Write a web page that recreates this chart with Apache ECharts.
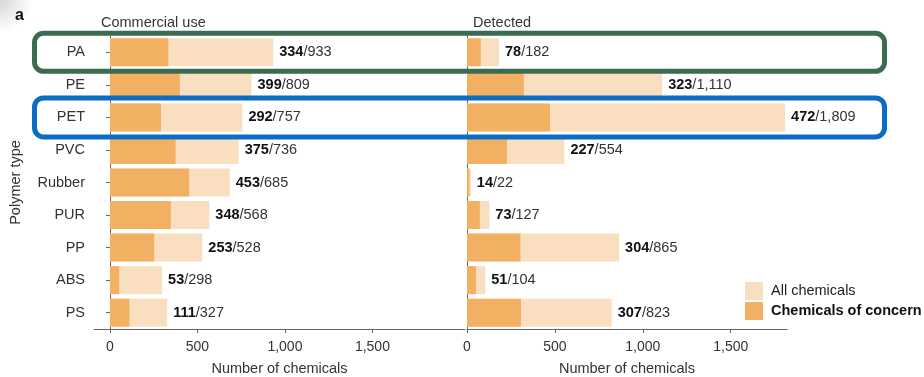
<!DOCTYPE html>
<html>
<head>
<meta charset="utf-8">
<script src="https://cdn.jsdelivr.net/npm/echarts@6/dist/echarts.min.js"></script>
<style>
  html, body { margin: 0; padding: 0; background: #fff; }
  #chart { width: 924px; height: 377px; }
</style>
</head>
<body>
<div id="chart"></div>
<script>
// Polymer types, top to bottom
const polymers = ['PA', 'PE', 'PET', 'PVC', 'Rubber', 'PUR', 'PP', 'ABS', 'PS'];

// Commercial use: all chemicals / chemicals of concern
const commercialAll = [933, 809, 757, 736, 685, 568, 528, 298, 327];
const commercialConcern = [334, 399, 292, 375, 453, 348, 253, 53, 111];

// Detected: all chemicals / chemicals of concern
const detectedAll = [182, 1110, 1809, 554, 22, 127, 865, 104, 823];
const detectedConcern = [78, 323, 472, 227, 14, 73, 304, 51, 307];

const xTicks = [0, 500, 1000, 1500];

const FONT = '"Liberation Sans", Arial, Helvetica, sans-serif';
const TEXT = '#333';
const ALL_COLOR = '#fadec0';
const CONCERN_COLOR = '#f2b062';

const fmt = v => v.toLocaleString('en-US');

function countLabel(concern, all) {
  return {
    show: true,
    position: 'right',
    distance: 6,
    fontFamily: FONT,
    formatter: p => '{b|' + fmt(concern[p.dataIndex]) + '}{n|/' + fmt(all[p.dataIndex]) + '}',
    rich: {
      b: { fontFamily: FONT, fontSize: 14.5, fontWeight: 'bold', color: '#111' },
      n: { fontFamily: FONT, fontSize: 14.5, color: TEXT }
    }
  };
}

function valueAxis(gridIndex, min, max) {
  return {
    type: 'value',
    gridIndex,
    min, max,
    name: 'Number of chemicals',
    nameLocation: 'middle',
    nameGap: 32,
    nameTextStyle: { fontFamily: FONT, fontSize: 14.5, color: TEXT },
    splitLine: { show: false },
    axisLine: { show: true, lineStyle: { color: '#666', width: 1 } },
    axisTick: { show: true, length: 4, lineStyle: { color: '#666' }, customValues: xTicks },
    axisLabel: {
      fontFamily: FONT, fontSize: 14, color: TEXT, margin: 11,
      customValues: xTicks,
      formatter: v => fmt(v)
    }
  };
}

const chart = echarts.init(document.getElementById('chart'), null, { renderer: 'canvas' });

const option = {
  animation: false,
  backgroundColor: '#fff',
  textStyle: { fontFamily: FONT },
  grid: [
    { left: 94, top: 36, width: 371, height: 293, outerBoundsMode: 'none', containLabel: false },
    { left: 467, top: 36, width: 320, height: 293, outerBoundsMode: 'none', containLabel: false }
  ],
  title: [
    { text: 'a', left: 10, top: 3, textStyle: { fontFamily: FONT, fontSize: 16, fontWeight: 'bold', color: '#111' } },
    { text: 'Commercial use', left: 96, top: 10, textStyle: { fontFamily: FONT, fontSize: 14.5, fontWeight: 'normal', color: TEXT } },
    { text: 'Detected', left: 468, top: 10, textStyle: { fontFamily: FONT, fontSize: 14.5, fontWeight: 'normal', color: TEXT } }
  ],
  legend: {
    orient: 'vertical',
    left: 745,
    top: 282,
    padding: 0,
    itemWidth: 18,
    itemHeight: 18,
    itemGap: 2,
    icon: 'rect',
    textStyle: { fontFamily: FONT, fontSize: 14.5, color: '#222', padding: [0, 0, 0, 3] },
    data: [
      { name: 'All chemicals' },
      { name: 'Chemicals of concern', textStyle: { fontWeight: 'bold', color: '#111' } }
    ]
  },
  xAxis: [
    valueAxis(0, -91, 2029),
    valueAxis(1, 0, 1820)
  ],
  yAxis: [
    {
      type: 'category', gridIndex: 0, data: polymers, inverse: true,
      name: 'Polymer type', nameLocation: 'middle', nameGap: 71,
      nameTextStyle: { fontFamily: FONT, fontSize: 14.5, color: TEXT },
      axisLine: { show: true, lineStyle: { color: '#666' } },
      axisTick: { show: true, alignWithLabel: true, length: 4, lineStyle: { color: '#666' } },
      axisLabel: { fontFamily: FONT, fontSize: 14.5, color: TEXT, margin: 9 }
    },
    {
      type: 'category', gridIndex: 1, data: polymers, inverse: true,
      axisLine: { show: true, lineStyle: { color: '#666' } },
      axisTick: { show: false },
      axisLabel: { show: false }
    }
  ],
  series: [
    {
      name: 'All chemicals', type: 'bar', xAxisIndex: 0, yAxisIndex: 0,
      data: commercialAll, barWidth: 28, itemStyle: { color: ALL_COLOR },
      label: countLabel(commercialConcern, commercialAll)
    },
    {
      name: 'Chemicals of concern', type: 'bar', xAxisIndex: 0, yAxisIndex: 0,
      data: commercialConcern, barWidth: 28, barGap: '-100%', itemStyle: { color: CONCERN_COLOR }
    },
    {
      name: 'All chemicals', type: 'bar', xAxisIndex: 1, yAxisIndex: 1,
      data: detectedAll, barWidth: 28, itemStyle: { color: ALL_COLOR },
      label: countLabel(detectedConcern, detectedAll)
    },
    {
      name: 'Chemicals of concern', type: 'bar', xAxisIndex: 1, yAxisIndex: 1,
      data: detectedConcern, barWidth: 28, barGap: '-100%', itemStyle: { color: CONCERN_COLOR }
    }
  ]
};

chart.setOption(option);

// Highlight frames around the PA and PET rows, spanning both panels
function rowFrame(category, color, h) {
  const cy = chart.convertToPixel({ yAxisIndex: 0 }, category);
  return {
    type: 'rect',
    z: 100,
    shape: { x: 34.5, y: cy - h / 2, width: 850, height: h, r: 9 },
    style: { fill: 'none', stroke: color, lineWidth: 5 }
  };
}

chart.setOption({
  graphic: [
    // soft shading in the top-left corner of the sheet
    {
      type: 'rect', z: -1, silent: true,
      shape: { x: 0, y: 0, width: 40, height: 60 },
      style: {
        fill: new echarts.graphic.RadialGradient(0, 0, 0.8, [
          { offset: 0, color: 'rgba(120,120,120,0.3)' },
          { offset: 1, color: 'rgba(120,120,120,0)' }
        ])
      }
    },
    rowFrame('PA', '#3b6c50', 38),
    rowFrame('PET', '#0a6cc4', 39)
  ]
});
</script>
</body>
</html>
